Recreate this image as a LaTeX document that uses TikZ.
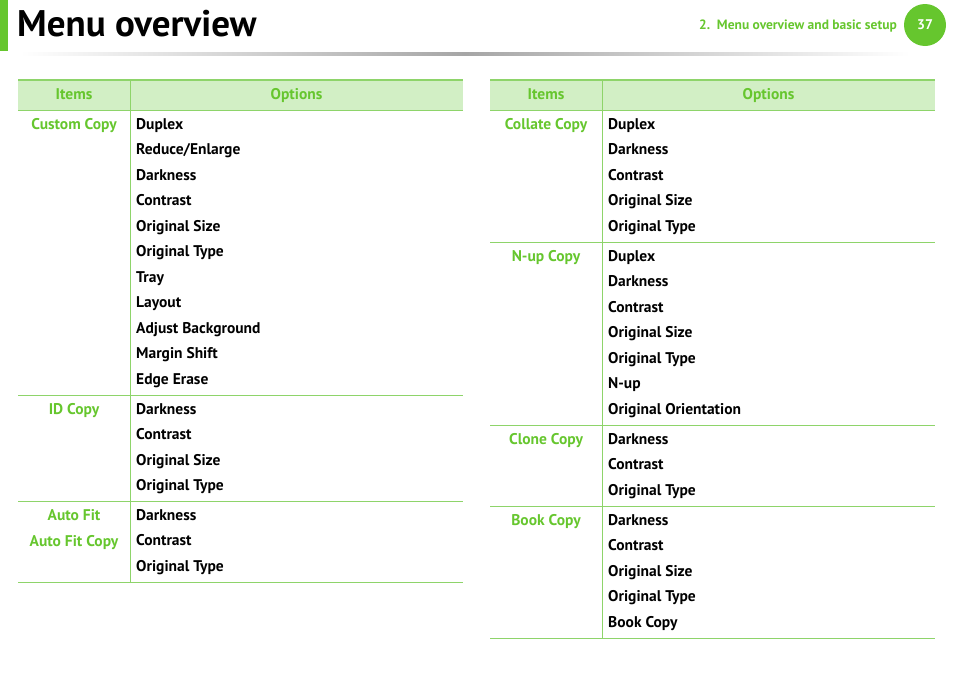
\documentclass[tikz,border=0pt]{standalone}
\usepackage{fontspec}
\setmainfont{PT Sans}
\definecolor{grn}{HTML}{66C62E}
\definecolor{hdr}{HTML}{D2EFC5}
\definecolor{ln}{HTML}{8ED46A}
\begin{document}
\begin{tikzpicture}[x=1pt,y=-1pt,
  it/.style={font=\bfseries\fontsize{15.5}{15.5}\selectfont,text=grn,anchor=base,inner sep=0pt},
  op/.style={font=\bfseries\fontsize{15.5}{15.5}\selectfont,anchor=base west,inner sep=0pt},
  hd/.style={font=\bfseries\fontsize{15.5}{15.5}\selectfont,text=grn,anchor=base,inner sep=0pt},
  rule/.style={draw=ln,line width=0.8pt}]
\useasboundingbox (0,0) rectangle (954,675);
\fill[grn] (0,0) rectangle (8,51);
\node[anchor=base west,inner sep=0pt,font=\bfseries\fontsize{37}{37}\selectfont] (title) at (17,36) {Menu overview};
\shade[left color=white,right color=white,middle color=black!35] (20,52) rectangle (910,55);
\node[anchor=base east,inner sep=0pt,font=\bfseries\fontsize{13.5}{13.5}\selectfont,text=grn] (chap) at (897,29) {2.\ \ Menu overview and basic setup};
\node[circle,fill=grn,minimum size=42pt,inner sep=0pt,text=white,font=\bfseries\fontsize{14}{14}\selectfont] (pg) at (925,25) {37};
\newcommand{\tbl}[2]{%
  \fill[hdr] (#1,80) rectangle (#1+445,110);
  \draw[draw=ln,line width=1.6pt] (#1,80) -- (#1+445,80);
  \draw[rule] (#1,110) -- (#1+445,110);
  \draw[rule] (#1+112,80) -- (#1+112,#2);
  \node[hd] at (#1+56,99) {Items};
  \node[hd] at (#1+278.5,99) {Options};
}
\tbl{18}{582}
\tbl{490}{638}
\foreach \y in {395,501,582} \draw[rule] (18,\y) -- (463,\y);
\foreach \y in {242,425,506,638} \draw[rule] (490,\y) -- (935,\y);
\node[it] (a1) at (74,129) {Custom Copy};
\node[it] (a2) at (74,414) {ID Copy};
\node[it] (a3) at (74,520) {Auto Fit};
\node[it] (a4) at (74,546) {Auto Fit Copy};
\foreach \t [count=\i from 0] in {Duplex,Reduce/Enlarge,Darkness,Contrast,Original Size,Original Type,Tray,Layout,Adjust Background,Margin Shift,Edge Erase}
  \node[op] at (136,129+25.5*\i) {\t};
\foreach \t [count=\i from 0] in {Darkness,Contrast,Original Size,Original Type}
  \node[op] at (136,414+25.5*\i) {\t};
\foreach \t [count=\i from 0] in {Darkness,Contrast,Original Type}
  \node[op] at (136,520+25.5*\i) {\t};
\node[it] (b1) at (546,129) {Collate Copy};
\node[it] (b2) at (546,261) {N-up Copy};
\node[it] (b3) at (546,444) {Clone Copy};
\node[it] (b4) at (546,525) {Book Copy};
\foreach \t [count=\i from 0] in {Duplex,Darkness,Contrast,Original Size,Original Type}
  \node[op] at (608,129+25.5*\i) {\t};
\foreach \t [count=\i from 0] in {Duplex,Darkness,Contrast,Original Size,Original Type,N-up,Original Orientation}
  \node[op] at (608,261+25.5*\i) {\t};
\foreach \t [count=\i from 0] in {Darkness,Contrast,Original Type}
  \node[op] at (608,444+25.5*\i) {\t};
\foreach \t [count=\i from 0] in {Darkness,Contrast,Original Size,Original Type,Book Copy}
  \node[op] at (608,525+25.5*\i) {\t};
\end{tikzpicture}
\end{document}
